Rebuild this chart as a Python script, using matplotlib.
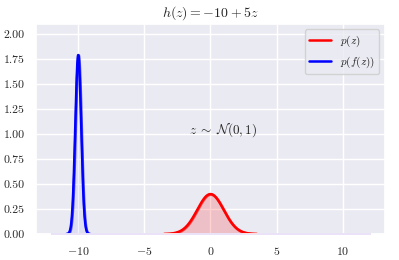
import numpy as np
import matplotlib
matplotlib.use("Agg")
import matplotlib.pyplot as plt
import seaborn as sns

sns.set_theme(style="darkgrid")
plt.rcParams['font.family'] = 'serif'
plt.rcParams['font.serif'] = ['cmr10', 'DejaVu Serif']
plt.rcParams['mathtext.fontset'] = 'cm'
plt.rcParams['axes.formatter.use_mathtext'] = True
plt.rcParams['axes.unicode_minus'] = True

# distribution parameters
labels = [r'$p(z)$', r'$p(f(z))$']
means = [0.0, -10.0]
stds = [1.0, 0.223]
colors = ['red', 'blue']
line_halfwidth_sd = [3.5, 4.0]
fill_alpha = [0.18, 0.05]
x_range = [-12, 12]
title = r'$h(z) = -10 + 5z$'
annot = r'$z \;\sim\; \mathcal{N}(0,1)$'
annot_pos = [-1.65, 1.0]

def pdf(x, m, s):
    return np.exp(-0.5 * ((x - m) / s) ** 2) / (s * np.sqrt(2 * np.pi))

fig = plt.figure(figsize=(3.99, 2.6), dpi=100)
ax = fig.add_axes([0.09, 0.1, 0.875, 0.808])

xs = np.linspace(x_range[0], x_range[1], 4001)
for lab, m, s, c, hw, fa in zip(labels, means, stds, colors, line_halfwidth_sd, fill_alpha):
    ax.fill_between(xs, pdf(xs, m, s), facecolor=matplotlib.colors.to_rgba(c, fa),
                    edgecolor=matplotlib.colors.to_rgba(c, 0.6), lw=2.0)
for lab, m, s, c, hw, fa in zip(labels, means, stds, colors, line_halfwidth_sd, fill_alpha):
    xl = np.linspace(m - hw * s, m + hw * s, 400)
    ax.plot(xl, pdf(xl, m, s), color=c, lw=1.8, label=lab)

ax.set_ylim(0, 2.1)
ax.set_xticks([-10, -5, 0, 5, 10])
ax.set_yticks([0, 0.25, 0.5, 0.75, 1.0, 1.25, 1.5, 1.75, 2.0])
ax.set_yticklabels(['0.00', '0.25', '0.50', '0.75', '1.00', '1.25', '1.50', '1.75', '2.00'])
ax.tick_params(labelsize=8.5, pad=2)
ax.set_title(title, fontsize=10, pad=5)
ax.text(annot_pos[0], annot_pos[1], annot, fontsize=9.5)
ax.legend(loc='upper right', fontsize=8)

fig.savefig('out.png', dpi=100)
